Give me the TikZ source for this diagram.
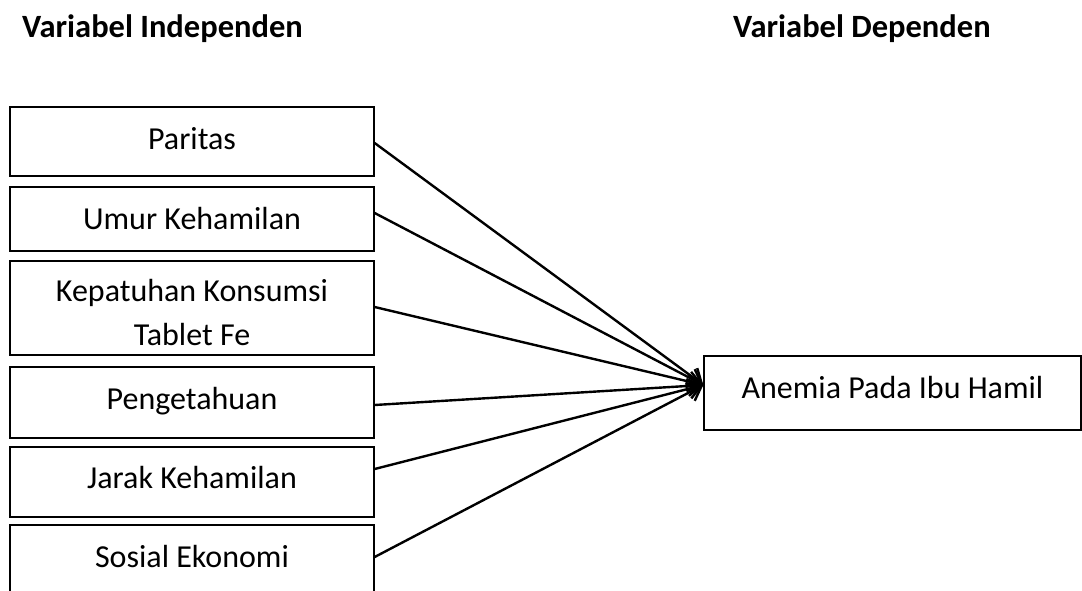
\documentclass[tikz,border=0pt]{standalone}
\usepackage{fontspec}
\setmainfont{Carlito}
\usetikzlibrary{arrows.meta}
\begin{document}
\begin{tikzpicture}[x=1pt,y=-1pt,
  box/.style={draw=black, line width=1.3pt, minimum width=364pt, inner sep=0pt,
    font=\fontsize{32}{44}\selectfont, align=center},
  lbl/.style={inner sep=0pt, font=\fontsize{32}{44}\selectfont, align=center},
  head/.style={font=\fontsize{32.5}{38}\selectfont\bfseries, anchor=base west, inner sep=0pt},
  arr/.style={line width=2.4pt, -{Straight Barb[length=13pt,width=20pt]}}]
\clip (0,0) rectangle (1082,590);
\node[head] (hi) at (22,37) {Variabel Independen};
\node[head] (hd) at (733,37) {Variabel Dependen};
\node[box, minimum height=69pt, text depth=7pt] (par) at (192,141.5) {Paritas};
\node[box, minimum height=64pt] (umur) at (192,219) {Umur Kehamilan};
\node[box, minimum height=94pt] (kep) at (192,308) {};
\node[lbl] (keptxt) at (192,313) {Kepatuhan Konsumsi\\Tablet Fe};
\node[box, minimum height=71pt, text depth=9pt] (peng) at (192,402.5) {Pengetahuan};
\node[box, minimum height=70pt, text depth=10pt] (jarak) at (192,482) {Jarak Kehamilan};
\node[box, minimum height=80pt] (sos) at (192,565) {};
\node[lbl] (sostxt) at (192,556) {Sosial Ekonomi};
\node[box, minimum width=377pt, minimum height=74pt, text depth=12pt] (ane) at (892.5,393) {Anemia Pada Ibu Hamil};
\coordinate (tip) at ([yshift=8pt]ane.west);
\draw[arr] ([yshift=-1.5pt]par.east) -- (tip);
\draw[arr] ([yshift=6pt]umur.east) -- (tip);
\draw[arr] ([yshift=1pt]kep.east) -- (tip);
\draw[arr] ([yshift=-2.5pt]peng.east) -- (tip);
\draw[arr] ([yshift=13pt]jarak.east) -- (tip);
\draw[arr] ([yshift=8pt]sos.east) -- (tip);
\end{tikzpicture}
\end{document}
